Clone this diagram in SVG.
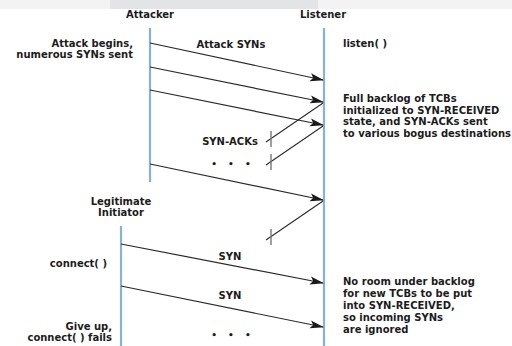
<svg xmlns="http://www.w3.org/2000/svg" width="512" height="346" viewBox="0 0 512 346">
<defs>
<style>
text{font-family:"DejaVu Sans","Liberation Sans",sans-serif;font-weight:bold;font-size:10px;fill:#1c1c1c}
.r{text-anchor:end}
.m{text-anchor:middle}
.life{stroke:#86b3d3;stroke-width:2.2;fill:none}
.msg{stroke:#2a2a2a;stroke-width:1.2;fill:none}
.lost{stroke:#2a2a2a;stroke-width:1.1;fill:none}
.tick{stroke:#777;stroke-width:1.4;fill:none}
.dots{font-size:9px;letter-spacing:4px}
</style>
<marker id="ah" markerUnits="userSpaceOnUse" markerWidth="14" markerHeight="10" viewBox="0 0 14 10" refX="13" refY="5" orient="auto">
<path d="M0,1 L14,5 L0,9 L3,5 z" fill="#1a1a1a"/>
</marker>
</defs>
<rect width="512" height="346" fill="#fff"/>
<rect x="0" y="0" width="512" height="9" fill="#f3f3f4"/>
<rect x="110" y="0" width="208" height="9" fill="#e3e4e6"/>

<g id="attacker">
<text class="m" x="150" y="18">Attacker</text>
<line class="life" x1="150" y1="28" x2="150" y2="182"/>
</g>
<g id="listener">
<text class="m" x="323" y="18">Listener</text>
<line class="life" x1="324" y1="28" x2="324" y2="346"/>
</g>
<g id="initiator">
<text class="m" x="121" y="205">Legitimate</text>
<text class="m" x="121" y="216">Initiator</text>
<line class="life" x1="121" y1="226" x2="121" y2="346"/>
</g>

<g id="connectors">
<line class="msg" x1="150" y1="43" x2="323" y2="80" marker-end="url(#ah)"/>
<line class="msg" x1="150" y1="67" x2="323" y2="102" marker-end="url(#ah)"/>
<line class="msg" x1="150" y1="90" x2="323" y2="125" marker-end="url(#ah)"/>
<line class="msg" x1="150" y1="164" x2="323" y2="200" marker-end="url(#ah)"/>
<line class="msg" x1="121" y1="244" x2="323" y2="283" marker-end="url(#ah)"/>
<line class="msg" x1="121" y1="286" x2="323" y2="327" marker-end="url(#ah)"/>
<line class="lost" x1="323" y1="103" x2="266" y2="142"/>
<line class="lost" x1="323" y1="126" x2="266" y2="165"/>
<line class="lost" x1="323" y1="201" x2="266" y2="240"/>
<line class="tick" x1="271" y1="131" x2="271" y2="147"/>
<line class="tick" x1="271" y1="154" x2="271" y2="170"/>
<line class="tick" x1="271" y1="229" x2="271" y2="245"/>
</g>

<g id="labels">
<text class="r" x="133" y="46.5">Attack begins,</text>
<text class="r" x="133" y="57.5">numerous SYNs sent</text>
<text class="m" x="231" y="48">Attack SYNs</text>
<text x="343" y="47">listen( )</text>
<text x="343" y="102">Full backlog of TCBs</text>
<text x="343" y="113.5">initialized to SYN-RECEIVED</text>
<text x="343" y="125">state, and SYN-ACKs sent</text>
<text x="343" y="136.5">to various bogus destinations</text>
<text class="m" x="230" y="145">SYN-ACKs</text>
<text class="m dots" x="233" y="167">• • •</text>
<text class="r" x="107" y="267">connect( )</text>
<text class="m" x="230" y="259.5">SYN</text>
<text class="m" x="230" y="299">SYN</text>
<text class="m dots" x="233" y="338">• • •</text>
<text x="343" y="285">No room under backlog</text>
<text x="343" y="297">for new TCBs to be put</text>
<text x="343" y="309">into SYN-RECEIVED,</text>
<text x="343" y="321">so incoming SYNs</text>
<text x="343" y="333">are ignored</text>
<text class="r" x="112" y="329.5">Give up,</text>
<text class="r" x="112" y="341">connect( ) fails</text>
</g>
</svg>
